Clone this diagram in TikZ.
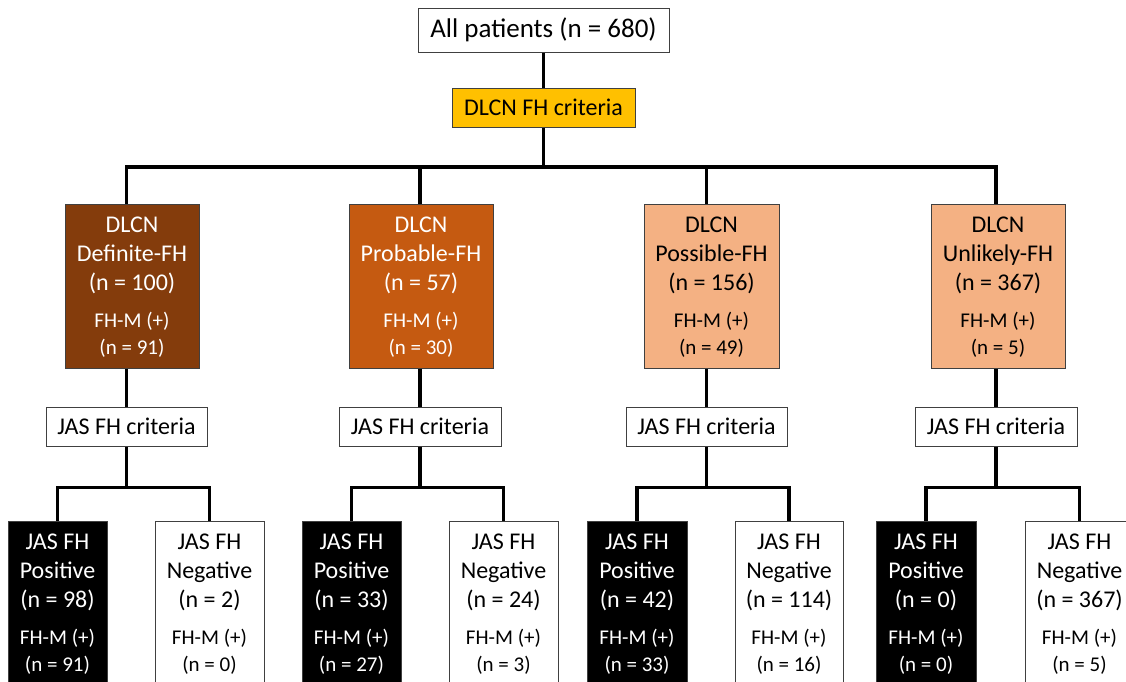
\documentclass[tikz,border=0pt]{standalone}
\usepackage{fontspec}
\setmainfont{Carlito}
\definecolor{defc}{HTML}{843C0C}
\definecolor{probc}{HTML}{C55A11}
\definecolor{possc}{HTML}{F4B183}
\definecolor{goldc}{HTML}{FFC000}
\definecolor{edgec}{HTML}{404040}
% #1 box name, #2 text colour, #3-#5 main lines, #6-#7 small lines
\newcommand\boxtext[7]{%
  \node[mtxt, text=#2] (#1a) at ([yshift=-28.5pt]#1.north) {#3};
  \node[mtxt, text=#2] (#1b) at ([yshift=-57.5pt]#1.north) {#4};
  \node[mtxt, text=#2] (#1c) at ([yshift=-86.5pt]#1.north) {#5};
  \node[stxt, text=#2] (#1d) at ([yshift=-123.5pt]#1.north) {#6};
  \node[stxt, text=#2] (#1e) at ([yshift=-151pt]#1.north) {#7};
}
\begin{document}
\begin{tikzpicture}[x=1pt,y=-1pt,
  base/.style={draw=edgec, line width=1pt, inner sep=0pt, align=center},
  catbox/.style={base, minimum height=164pt},
  critbox/.style={base, fill=white, minimum height=39pt, font=\fontsize{24pt}{29pt}\selectfont},
  mtxt/.style={anchor=base, inner sep=0pt, font=\fontsize{24pt}{29pt}\selectfont},
  stxt/.style={anchor=base, inner sep=0pt, font=\fontsize{21pt}{25pt}\selectfont},
  conn/.style={line width=3.2pt, black}]
\useasboundingbox (0,0) rectangle (1126,681);
\clip (0,0) rectangle (1126,681);
\fill[white] (0,0) rectangle (1126,681);

% top
\node[base, fill=white, minimum width=251pt, minimum height=44pt, font=\fontsize{27pt}{32pt}\selectfont] (all) at (543.5,30) {All patients (n = 680)};
\node[base, fill=goldc, minimum width=183pt, minimum height=39pt, font=\fontsize{24pt}{29pt}\selectfont] (dlcn) at (543.5,107.5) {DLCN FH criteria};

% DLCN categories
\node[catbox, fill=defc, minimum width=134pt] (def) at (132,286) {};
\node[catbox, fill=probc, minimum width=144pt] (prob) at (421,286) {};
\node[catbox, fill=possc, minimum width=135pt] (poss) at (711.5,286) {};
\node[catbox, fill=possc, minimum width=134pt] (unl) at (998,286) {};
\boxtext{def}{white}{DLCN}{Definite-FH}{(n = 100)}{FH-M (+)}{(n = 91)}
\boxtext{prob}{white}{DLCN}{Probable-FH}{(n = 57)}{FH-M (+)}{(n = 30)}
\boxtext{poss}{black}{DLCN}{Possible-FH}{(n = 156)}{FH-M (+)}{(n = 49)}
\boxtext{unl}{black}{DLCN}{Unlikely-FH}{(n = 367)}{FH-M (+)}{(n = 5)}

% JAS criteria
\node[critbox, minimum width=161pt] (defjas) at (126.5,426.5) {JAS FH criteria};
\node[critbox, minimum width=162pt] (probjas) at (420,426.5) {JAS FH criteria};
\node[critbox, minimum width=161pt] (possjas) at (706.5,426.5) {JAS FH criteria};
\node[critbox, minimum width=162pt] (unljas) at (996,426.5) {JAS FH criteria};

% JAS results
\node[catbox, fill=black, minimum width=99pt] (defpos) at (57.5,603) {};
\node[catbox, fill=white, minimum width=109pt] (defneg) at (209.5,603) {};
\node[catbox, fill=black, minimum width=99pt] (probpos) at (351.5,603) {};
\node[catbox, fill=white, minimum width=109pt] (probneg) at (503.5,603) {};
\node[catbox, fill=black, minimum width=100pt] (posspos) at (637,603) {};
\node[catbox, fill=white, minimum width=108pt] (possneg) at (789,603) {};
\node[catbox, fill=black, minimum width=100pt] (unlpos) at (926,603) {};
\node[catbox, fill=white, minimum width=109pt] (unlneg) at (1079.5,603) {};
\boxtext{defpos}{white}{JAS FH}{Positive}{(n = 98)}{FH-M (+)}{(n = 91)}
\boxtext{defneg}{black}{JAS FH}{Negative}{(n = 2)}{FH-M (+)}{(n = 0)}
\boxtext{probpos}{white}{JAS FH}{Positive}{(n = 33)}{FH-M (+)}{(n = 27)}
\boxtext{probneg}{black}{JAS FH}{Negative}{(n = 24)}{FH-M (+)}{(n = 3)}
\boxtext{posspos}{white}{JAS FH}{Positive}{(n = 42)}{FH-M (+)}{(n = 33)}
\boxtext{possneg}{black}{JAS FH}{Negative}{(n = 114)}{FH-M (+)}{(n = 16)}
\boxtext{unlpos}{white}{JAS FH}{Positive}{(n = 0)}{FH-M (+)}{(n = 0)}
\boxtext{unlneg}{black}{JAS FH}{Negative}{(n = 367)}{FH-M (+)}{(n = 5)}

% connectors
\coordinate (bus1) at (543.5,167);
\draw[conn] (all) -- (dlcn);
\draw[conn] (dlcn) -- (bus1);
\draw[conn] (def.north -| defjas) |- (bus1) -| (unl.north -| unljas);
\draw[conn] (probjas |- bus1) -- (prob.north -| probjas);
\draw[conn] (possjas |- bus1) -- (poss.north -| possjas);

\foreach \g in {def,prob,poss,unl}{
  \draw[conn] (\g.south -| \g jas) -- (\g jas.north);
  \path (\g jas.south) ++(0,41) coordinate (\g bus);
  \draw[conn] (\g jas) -- (\g bus);
  \draw[conn] (\g pos) |- (\g bus) -| (\g neg);
}
\end{tikzpicture}
\end{document}
